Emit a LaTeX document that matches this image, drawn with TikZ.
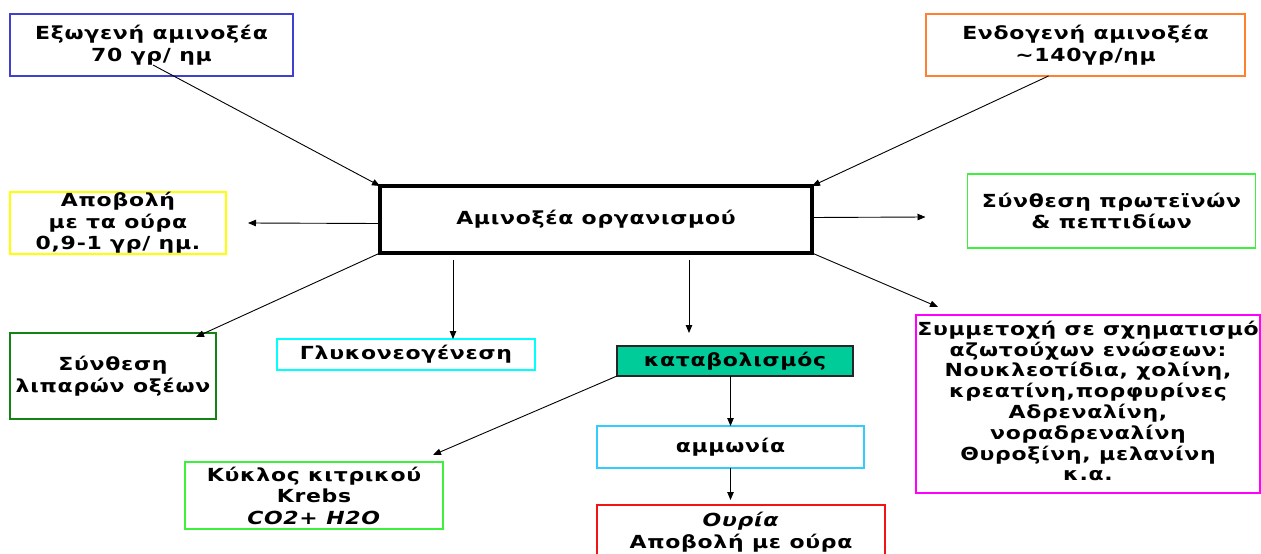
\documentclass[tikz,border=0pt]{standalone}
\usepackage{fontspec}
\setmainfont{DejaVu Sans}[FakeStretch=1.22,LetterSpace=4]
\usetikzlibrary{arrows.meta,calc}
\definecolor{cblue}{RGB}{64,64,208}
\definecolor{corange}{RGB}{255,128,48}
\definecolor{cyellow}{RGB}{255,255,0}
\definecolor{cgreen}{RGB}{60,240,60}
\definecolor{cdgreen}{RGB}{20,130,20}
\definecolor{ccyan}{RGB}{0,255,255}
\definecolor{cteal}{RGB}{0,204,153}
\definecolor{cmag}{RGB}{255,0,255}
\definecolor{csky}{RGB}{51,204,255}
\definecolor{cred}{RGB}{240,20,20}
\begin{document}
\begin{tikzpicture}[x=1pt,y=-1pt,
  box/.style={draw,line width=1.4pt,align=center,inner sep=0pt,outer sep=0pt,
    font=\fontsize{18}{21.5}\selectfont\bfseries},
  arr/.style={line width=0.9pt,-{Triangle[length=8pt,width=6.5pt]}}]
\useasboundingbox (0,0) rectangle (1261,554);
\clip (0,0) rectangle (1261,554);
\fill[white] (0,0) rectangle (1261,554);
\node[box,draw=cblue,minimum width=283,minimum height=62] (exo) at (151.5,45) {Εξωγενή αμινοξέα\\70 γρ/ ημ};
\node[box,draw=corange,minimum width=319,minimum height=62] (endo) at (1085.5,45) {Ενδογενή αμινοξέα\\\textasciitilde140γρ/ημ};
\node[box,draw=black,line width=3.8pt,minimum width=432,minimum height=67] (main) at (596,219.5) {Αμινοξέα οργανισμού};
\node[box,draw=cyellow,minimum width=216,minimum height=62] (apov) at (118,223) {Αποβολή\\ με τα ούρα\\0,9-1 γρ/ ημ.};
\node[box,draw=cgreen,minimum width=288,minimum height=74] (prot) at (1111.5,211) {Σύνθεση πρωτεϊνών\\\& πεπτιδίων};
\node[box,draw=cdgreen,minimum width=206,minimum height=86] (fat) at (113,376) {Σύνθεση\\λιπαρών οξέων};
\node[box,draw=ccyan,minimum width=258,minimum height=31] (gluk) at (406,354.5) {Γλυκονεογένεση};
\node[box,draw=black!85,fill=cteal,minimum width=236,minimum height=30] (katab) at (735,361) {καταβολισμός};
\node[box,draw=cmag,minimum width=344,minimum height=178,font=\fontsize{18}{20.8}\selectfont\bfseries] (symm) at (1088,404) {\makebox[300pt][c]{\begin{tabular}{@{}c@{}}Συμμετοχή σε σχηματισμό\\αζωτούχων ενώσεων:\\Νουκλεοτίδια, χολίνη,\\ κρεατίνη,πορφυρίνες\\Αδρεναλίνη,\\νοραδρεναλίνη\\Θυροξίνη, μελανίνη\\κ.α.\end{tabular}}};
\node[box,draw=cgreen,minimum width=258,minimum height=67] (krebs) at (314,495.5) {Κύκλος κιτρικού\\Krebs\\\textit{CO2+ H2O}};
\node[box,draw=csky,minimum width=267,minimum height=42] (amm) at (730.5,447) {αμμωνία};
\node[box,draw=cred,minimum width=288,minimum height=54] (our) at (741,532) {\textit{Ουρία}\\Αποβολή με ούρα};
\coordinate (g1) at ($(main.south west)+(73,7)$);
\coordinate (k1) at ($(main.south west)+(309,7)$);
\draw[arr] ($(exo.south)+(1.5,-11)$) -- (main.north west);
\draw[arr] ($(endo.south)+(-37,0)$) -- (main.north east);
\draw[arr] ($(main.west)+(0,4)$) -- ($(apov.east)+(22,0)$);
\draw[arr] (main.south west) -- ($(fat.north east)+(-20,4)$);
\draw[arr] (g1) -- (g1 |- gluk.north);
\draw[arr] (k1) -- ($(k1 |- katab.north)+(0,-13)$);
\draw[arr] ($(main.east)+(0,-2)$) -- ($(prot.west)+(-42,6)$);
\draw[arr] (main.south east) -- ($(symm.north west)+(22,-8)$);
\draw[arr] (katab.south west) -- ($(krebs.north east)+(-10,-7)$);
\draw[arr] (amm.north |- katab.south) -- (amm.north);
\draw[arr] (amm.south) -- ($(our.north -| amm.south)+(0,-5)$);
\end{tikzpicture}
\end{document}
